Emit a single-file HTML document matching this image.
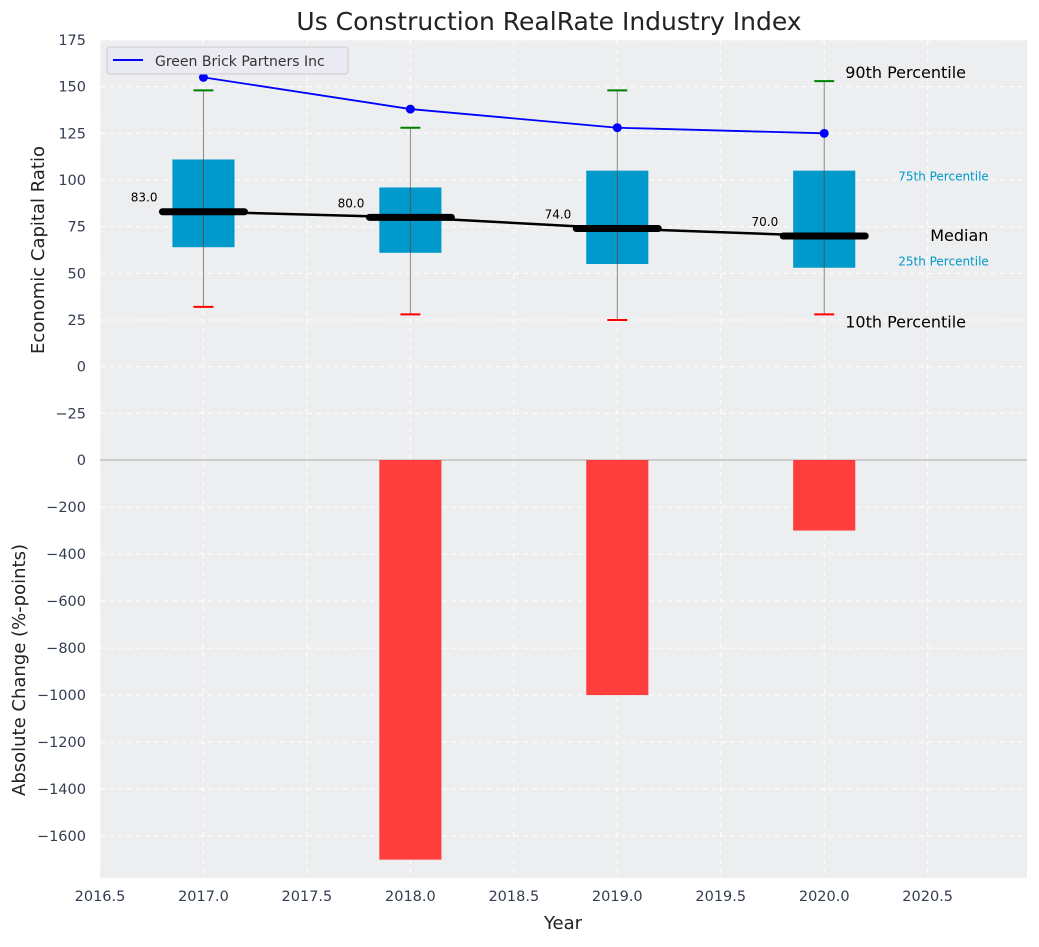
<!DOCTYPE html>
<html><head><meta charset="utf-8"><style>
body{margin:0;background:#fff;font-family:"Liberation Sans","DejaVu Sans",sans-serif}
svg text{font-family:"DejaVu Sans","Liberation Sans",sans-serif}
</style></head><body>
<svg id="c" width="1039" height="942" xmlns="http://www.w3.org/2000/svg"></svg>
<script>
const years=[2017,2018,2019,2020];
const q1=[64,61,55,53];
const q3=[111,96,105,105];
const medians=[83,80,74,70];
const whiskLo=[32,28,25,28];
const whiskHi=[148,128,148,153];
const company=[155,138,128,125];
const changes=[0,-1700,-1000,-300];
const topTicks=[175,150,125,100,75,50,25,0,-25];
const botTicks=[0,-200,-400,-600,-800,-1000,-1200,-1400,-1600];
const xTicks=[2016.5,2017,2017.5,2018,2018.5,2019,2019.5,2020,2020.5];

const svg=document.getElementById('c');const NS='http://www.w3.org/2000/svg';
function el(t,a,txt,name,parent){const e=document.createElementNS(NS,t);for(const k in a)e.setAttribute(k,a[k]);if(txt!==undefined)e.textContent=txt;


(parent||svg).appendChild(e);return e;}
const L=100,R=1027,T=40,M=460,B=878;
const X=v=>L+(v-2016.5)*(R-L)/4.48;
const Yt=v=>T+(175-v)*(M-T)/225;
const Yb=v=>M+(0-v)*(B-M)/1778;
el('rect',{x:L,y:T,width:R-L,height:M-T,fill:'#eceeef'},undefined,'top-plot-area');
el('rect',{x:L,y:M,width:R-L,height:B-M,fill:'#eceeef'},undefined,'bottom-plot-area');
xTicks.forEach(v=>{el('line',{x1:X(v),x2:X(v),y1:T,y2:B,stroke:'#fff','stroke-dasharray':'5,4','stroke-width':1},undefined,'x-grid-line');
el('text',{x:X(v),y:901,'text-anchor':'middle','font-size':14.5,fill:'#333e50'},v.toFixed(1),'x-tick-label');});
topTicks.forEach(v=>{el('line',{x1:L,x2:R,y1:Yt(v),y2:Yt(v),stroke:'#fff','stroke-dasharray':'5,4'},undefined,'top-y-grid-line');
el('text',{x:86,y:Yt(v)+5,'text-anchor':'end','font-size':14.5,fill:'#333e50'},v<0?'\u2212'+(-v):v,'top-y-tick-label');});
botTicks.forEach(v=>{el('line',{x1:L,x2:R,y1:Yb(v),y2:Yb(v),stroke:'#fff','stroke-dasharray':'5,4'},undefined,'bottom-y-grid-line');
el('text',{x:86,y:Yb(v)+5,'text-anchor':'end','font-size':14.5,fill:'#333e50'},v<0?'\u2212'+(-v):v,'bottom-y-tick-label');});
el('line',{x1:L,x2:R,y1:M,y2:M,stroke:'#aaa','stroke-width':1},undefined,'zero-line');
years.forEach((y,i)=>{const x=X(y),hw=0.15*207;
el('line',{x1:x,x2:x,y1:Yt(whiskHi[i]),y2:Yt(whiskLo[i]),stroke:'#888','stroke-width':1},undefined,'whisker');
el('rect',{x:x-hw,y:Yt(q3[i]),width:2*hw,height:Yt(q1[i])-Yt(q3[i]),fill:'#0099cc'},undefined,'box-'+y);
el('line',{x1:x,x2:x,y1:Yt(q3[i]),y2:Yt(q1[i]),stroke:'#555','stroke-width':1},undefined,'whisker-inner');
el('line',{x1:x-10,x2:x+10,y1:Yt(whiskHi[i]),y2:Yt(whiskHi[i]),stroke:'green','stroke-width':2},undefined,'p90-cap');
el('line',{x1:x-10,x2:x+10,y1:Yt(whiskLo[i]),y2:Yt(whiskLo[i]),stroke:'red','stroke-width':2},undefined,'p10-cap');
if(changes[i]!==0)el('rect',{x:x-hw,y:M,width:2*hw,height:Yb(changes[i])-M,fill:'#ff3333','fill-opacity':0.95},undefined,'change-bar-'+y);
});
el('polyline',{points:years.map((y,i)=>X(y)+','+Yt(medians[i])).join(' '),fill:'none',stroke:'#000','stroke-width':2.5},undefined,'median-line');
years.forEach((y,i)=>{const x=X(y);
el('line',{x1:x-41,x2:x+41,y1:Yt(medians[i]),y2:Yt(medians[i]),stroke:'#000','stroke-width':7,'stroke-linecap':'round'},undefined,'median-marker');
el('text',{x:x-46,y:Yt(medians[i])-10,'text-anchor':'end','font-size':12,fill:'#000'},medians[i].toFixed(1),'median-label');});
el('polyline',{points:years.map((y,i)=>X(y)+','+Yt(company[i])).join(' '),fill:'none',stroke:'blue','stroke-width':1.8},undefined,'company-line');
years.forEach((y,i)=>el('circle',{cx:X(y),cy:Yt(company[i]),r:4.5,fill:'blue'},undefined,'company-point'));
const lx=X(2020);
el('text',{x:lx+21,y:Yt(whiskHi[3])-3,'font-size':16,fill:'#000'},'90th Percentile','p90-annotation');
el('text',{x:lx+21,y:Yt(whiskLo[3])+13,'font-size':16,fill:'#000'},'10th Percentile','p10-annotation');
el('text',{x:lx+106,y:Yt(medians[3])+5,'font-size':16,fill:'#000'},'Median','median-annotation');
el('text',{x:lx+74,y:Yt(q3[3])+10,'font-size':12,fill:'#0099cc'},'75th Percentile','p75-annotation');
el('text',{x:lx+74,y:Yt(q1[3])-2,'font-size':12,fill:'#0099cc'},'25th Percentile','p25-annotation');
el('rect',{x:107,y:47,width:241,height:27,rx:3,fill:'#eaeaf2',stroke:'#ccc'},undefined,'legend');
el('line',{x1:113,x2:143,y1:60,y2:60,stroke:'blue','stroke-width':2},undefined,'legend-line');
el('text',{x:155,y:66,'font-size':14,fill:'#333'},'Green Brick Partners Inc','legend-label');
el('text',{x:549,y:30,'text-anchor':'middle','font-size':25,fill:'#222'},'Us Construction RealRate Industry Index','chart-title');
el('text',{x:563,y:929,'text-anchor':'middle','font-size':18,fill:'#222'},'Year','x-axis-title');
el('text',{x:0,y:0,'text-anchor':'middle','font-size':18,fill:'#222',transform:'translate(44,250) rotate(-90)'},'Economic Capital Ratio','top-y-axis-title');
el('text',{x:0,y:0,'text-anchor':'middle','font-size':18,fill:'#222',transform:'translate(25,670) rotate(-90)'},'Absolute Change (%-points)','bottom-y-axis-title');
</script>
</body></html>
